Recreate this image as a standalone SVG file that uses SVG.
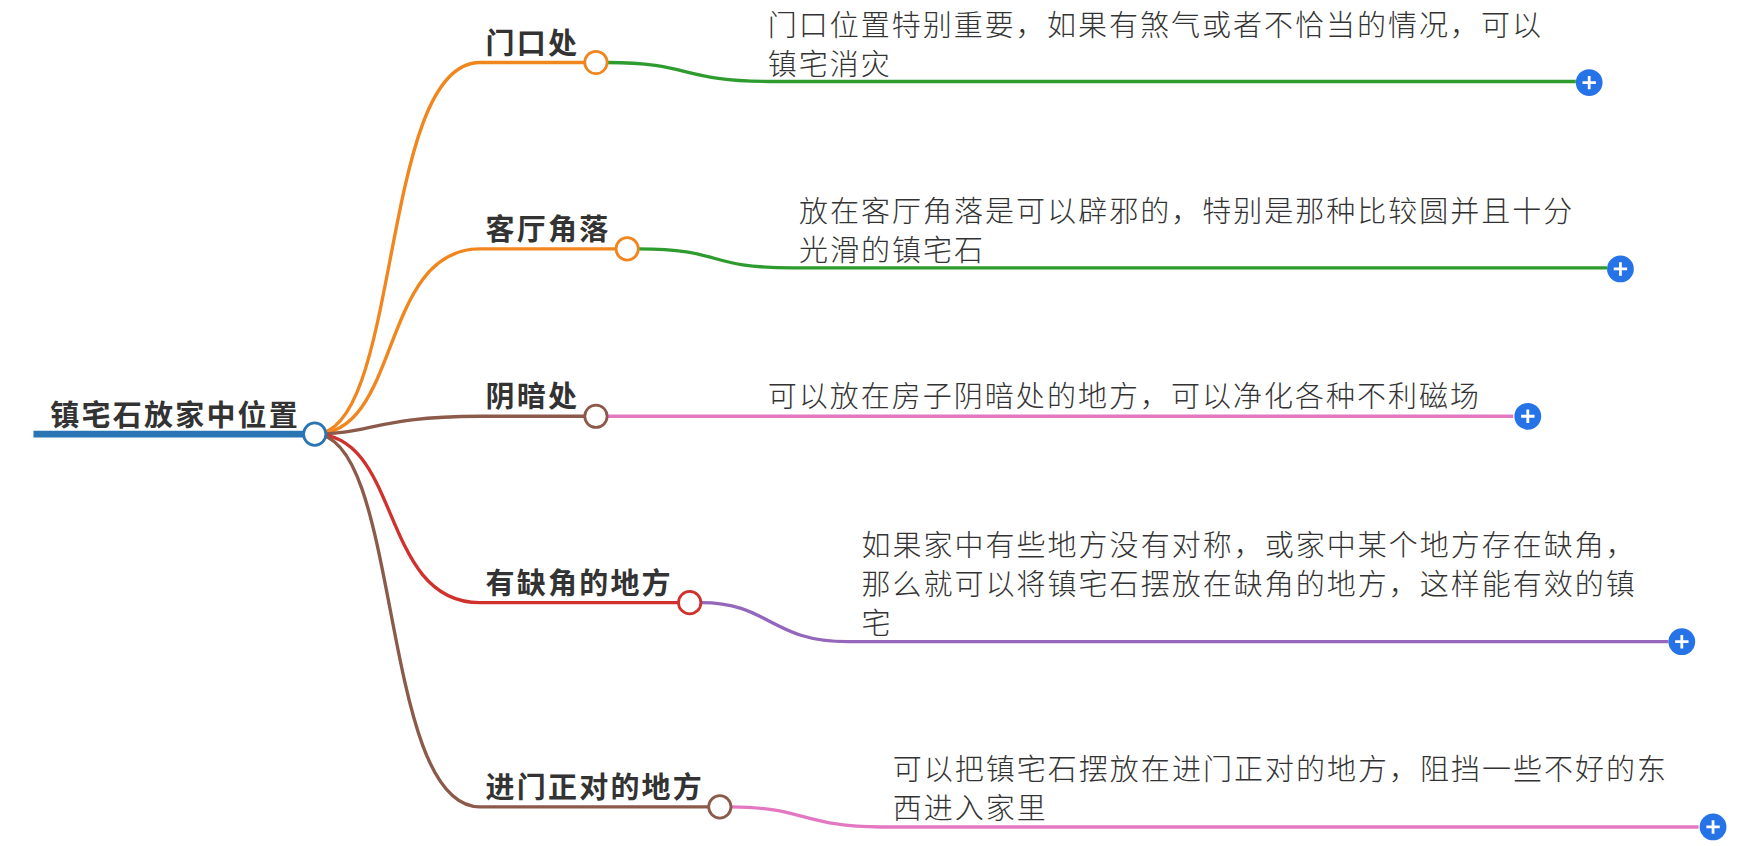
<svg xmlns="http://www.w3.org/2000/svg" width="1749" height="846" viewBox="0 0 1749 846">
<style>
.n{font-family:"Noto Sans CJK SC","Noto Sans",sans-serif;font-size:26px;font-weight:bold;fill:#333;letter-spacing:2px}
.t{font-family:"Noto Sans CJK SC","Noto Sans",sans-serif;font-size:26px;font-weight:300;fill:#333;letter-spacing:1.8px}
.c{fill:none;stroke-width:3}
.k{fill:#fff;stroke-width:2.5}
</style>
<rect width="1749" height="846" fill="#fff"/>
<g transform="scale(1.116)">
<g id="connectors">
<path class="c" stroke="#f0861d" d="M282 389 C360 389 340 56 430 56 H524"/>
<path class="c" stroke="#f0861d" d="M282 389 C360 389 340 223 430 223 H552"/>
<path class="c" stroke="#8b5a4a" d="M282 389 C330 389 340 373 430 373 H524"/>
<path class="c" stroke="#d0312d" d="M282 389 C360 389 340 540 430 540 H608"/>
<path class="c" stroke="#8b5a4a" d="M282 389 C360 389 340 723 430 723 H635"/>
<path class="c" stroke="#2e9b2e" d="M544 56 C620 56 610 73 690 73 H1412"/>
<path class="c" stroke="#2e9b2e" d="M572 223 C650 223 630 240 710 240 H1440"/>
<path class="c" stroke="#e377c2" d="M544 373 H1356"/>
<path class="c" stroke="#9467bd" d="M628 540 C690 540 690 575 760 575 H1495"/>
<path class="c" stroke="#e377c2" d="M655 723 C720 723 720 741 790 741 H1522"/>
<line x1="30" y1="389" x2="272" y2="389" stroke="#2a75b3" stroke-width="6"/>
</g>
<g id="root"><text class="n" x="45" y="382">镇宅石放家中位置</text><circle class="k" stroke="#2a75b3" cx="282" cy="389" r="10"/></g>
<g id="n1"><text class="n" x="435" y="48">门口处</text><circle class="k" stroke="#f0861d" cx="534" cy="56" r="10"/></g>
<g id="n2"><text class="n" x="435" y="215">客厅角落</text><circle class="k" stroke="#f0861d" cx="562" cy="223" r="10"/></g>
<g id="n3"><text class="n" x="435" y="365">阴暗处</text><circle class="k" stroke="#8b5a4a" cx="534" cy="373" r="10"/></g>
<g id="n4"><text class="n" x="435" y="532">有缺角的地方</text><circle class="k" stroke="#d0312d" cx="618" cy="540" r="10"/></g>
<g id="n5"><text class="n" x="435" y="715">进门正对的地方</text><circle class="k" stroke="#8b5a4a" cx="645" cy="723" r="10"/></g>
<g id="l1"><text class="t" x="688" y="32">门口位置特别重要，如果有煞气或者不恰当的情况，可以</text><text class="t" x="688" y="67">镇宅消灾</text></g>
<g id="l2"><text class="t" x="716" y="199">放在客厅角落是可以辟邪的，特别是那种比较圆并且十分</text><text class="t" x="716" y="234">光滑的镇宅石</text></g>
<g id="l3"><text class="t" x="688" y="365">可以放在房子阴暗处的地方，可以净化各种不利磁场</text></g>
<g id="l4"><text class="t" x="772" y="498">如果家中有些地方没有对称，或家中某个地方存在缺角，</text><text class="t" x="772" y="533">那么就可以将镇宅石摆放在缺角的地方，这样能有效的镇</text><text class="t" x="772" y="568">宅</text></g>
<g id="l5"><text class="t" x="800" y="699">可以把镇宅石摆放在进门正对的地方，阻挡一些不好的东</text><text class="t" x="800" y="734">西进入家里</text></g>
<g id="plus" stroke="#fff" stroke-width="2.5">
<g><circle cx="1424" cy="74" r="12" fill="#2673e8" stroke="none"/><path d="M1418 74h12M1424 68v12"/></g>
<g><circle cx="1452" cy="241" r="12" fill="#2673e8" stroke="none"/><path d="M1446 241h12M1452 235v12"/></g>
<g><circle cx="1369" cy="373" r="12" fill="#2673e8" stroke="none"/><path d="M1363 373h12M1369 367v12"/></g>
<g><circle cx="1507" cy="575" r="12" fill="#2673e8" stroke="none"/><path d="M1501 575h12M1507 569v12"/></g>
<g><circle cx="1535" cy="741" r="12" fill="#2673e8" stroke="none"/><path d="M1529 741h12M1535 735v12"/></g>
</g>
</g>
</svg>
